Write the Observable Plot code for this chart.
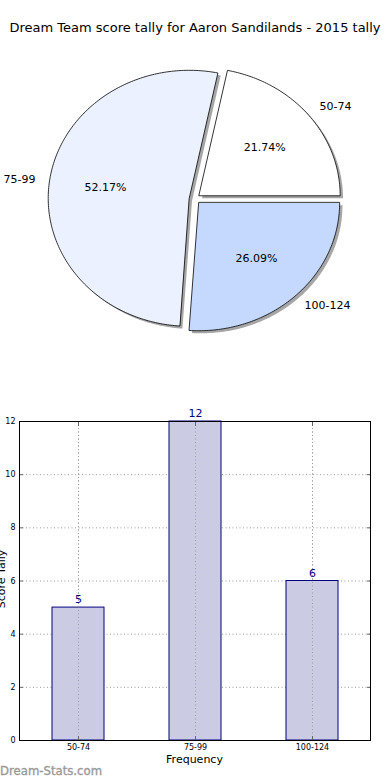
<!DOCTYPE html>
<html>
<head>
<meta charset="utf-8">
<script src="https://cdn.jsdelivr.net/npm/d3@7"></script>
<script src="https://cdn.jsdelivr.net/npm/@observablehq/plot@0.6"></script>
<style>
  html, body { margin: 0; padding: 0; background: #fff; }
  body { width: 390px; height: 780px; position: relative; overflow: hidden; font-family: "DejaVu Sans", sans-serif; }
  #title { position: absolute; top: 20px; left: 0; width: 390px; text-align: center; font-size: 13px; color: #000; white-space: nowrap; }
  #pie { position: absolute; top: 0; left: 0; }
  #bar { position: absolute; top: 400px; left: 0; }
  #xlabel { position: absolute; top: 753px; left: 19px; width: 351px; text-align: center; font-size: 11px; color: #000; }
  #ylabel { position: absolute; left: -33px; top: 572px; width: 70px; text-align: center; font-size: 11px; transform: rotate(-90deg); transform-origin: 35px 7px; white-space: nowrap; }
  #wm { position: absolute; left: 0; top: 764px; font-size: 11.7px; color: #9a9a9a; -webkit-text-stroke: 0.35px #9a9a9a; white-space: nowrap; }
</style>
</head>
<body>
<div id="title">Dream Team score tally for Aaron Sandilands - 2015 tally</div>
<div id="pie"></div>
<div id="bar"></div>
<div id="ylabel">Score Tally</div>
<div id="xlabel">Frequency</div>
<div id="wm">Dream-Stats.com</div>
<script>
// ---- data ----
const categories = ["50-74", "75-99", "100-124"];
const counts = [5, 12, 6];
const yTicks = [0, 2, 4, 6, 8, 10, 12];

// ---- styles ----
const pieColors = ["#ffffff", "#ebf1ff", "#c5d9ff"];
const explode = 0.04;

const total = d3.sum(counts);
// build wedges (counter-clockwise from 0 degrees, like matplotlib)
let start = 0;
const slices = categories.map((c, i) => {
  const frac = counts[i] / total;
  const t1 = start * 2 * Math.PI, t2 = (start + frac) * 2 * Math.PI;
  start += frac;
  const tm = (t1 + t2) / 2;
  return {cat: c, i, frac, t1, t2, tm, ox: explode * Math.cos(tm), oy: explode * Math.sin(tm)};
});
function wedgePoints(s, shift) {
  const pts = [{u: s.ox + shift, v: s.oy - shift}];
  const n = Math.max(2, Math.ceil((s.t2 - s.t1) / (Math.PI / 180)));
  for (let k = 0; k <= n; k++) {
    const t = s.t1 + (s.t2 - s.t1) * k / n;
    pts.push({u: s.ox + Math.cos(t) + shift, v: s.oy + Math.sin(t) - shift});
  }
  return pts;
}
const labels = slices.map(s => ({
  cat: s.cat,
  cos: Math.cos(s.tm),
  lu: s.ox + 1.1 * Math.cos(s.tm), lv: s.oy + 1.1 * Math.sin(s.tm),
  pu: s.ox + 0.6 * Math.cos(s.tm), pv: s.oy + 0.6 * Math.sin(s.tm),
  pct: (s.frac * 100).toFixed(2) + "%"
}));

const pieMarks = [];
slices.forEach(s => {
  pieMarks.push(Plot.line(wedgePoints(s, 0.02), {x: "u", y: "v", curve: "linear-closed", fill: "#4d4d4d", fillOpacity: 0.5, stroke: "none"}));
});
slices.forEach(s => {
  pieMarks.push(Plot.line(wedgePoints(s, 0), {x: "u", y: "v", curve: "linear-closed", fill: pieColors[s.i], stroke: "#000", strokeWidth: 0.8}));
});
pieMarks.push(Plot.text(labels.filter(d => d.cos >= 0), {x: "lu", y: "lv", text: "cat", textAnchor: "start", fontSize: 11, fill: "#000"}));
pieMarks.push(Plot.text(labels.filter(d => d.cos < 0), {x: "lu", y: "lv", text: "cat", textAnchor: "end", fontSize: 11, fill: "#000"}));
pieMarks.push(Plot.text(labels, {x: "pu", y: "pv", text: "pct", fontSize: 11, fill: "#000"}));

const cx = 194.3, cy = 198.5, rx = 141, ry = 128, H = 370;
const pie = Plot.plot({
  width: 390, height: H,
  margin: 0,
  style: {fontFamily: "DejaVu Sans, sans-serif", background: "transparent"},
  x: {domain: [-cx / rx, (390 - cx) / rx], axis: null},
  y: {domain: [(cy - H) / ry, cy / ry], axis: null},
  marks: pieMarks
});
document.getElementById("pie").append(pie);

// ---- bar chart ----
const barData = categories.map((c, i) => ({cat: c, n: counts[i]}));
const grid = {stroke: "#999", strokeOpacity: 1, strokeDasharray: "1,2.5", strokeWidth: 1};
const bar = Plot.plot({
  width: 390, height: 380,
  marginTop: 21, marginBottom: 40, marginLeft: 19, marginRight: 20,
  style: {fontFamily: "DejaVu Sans, sans-serif", background: "transparent", color: "#000"},
  x: {domain: categories, paddingInner: 0.556, paddingOuter: 0.278, label: null},
  y: {domain: [0, 12], label: null},
  marks: [
    Plot.gridY(yTicks, grid),
    Plot.gridX(categories, grid),
    Plot.barY(barData, {x: "cat", y: "n", fill: "#cbcce4", stroke: "#000080", strokeWidth: 1}),
    Plot.gridX(categories, {...grid, strokeOpacity: 0.9}),
    Plot.text(barData, {x: "cat", y: "n", text: d => String(d.n), dy: -8, fontSize: 11, fill: "#000080"}),
    Plot.axisY(yTicks, {anchor: "left", tickSize: 4, dx: 4, tickFormat: () => "", label: null, stroke: "#666"}),
    Plot.axisY(yTicks, {anchor: "right", tickSize: 4, dx: -4, tickFormat: () => "", label: null, stroke: "#666"}),
    Plot.axisX(categories, {anchor: "bottom", tickSize: 4, dy: -4, tickFormat: () => "", label: null, stroke: "#666"}),
    Plot.axisX(categories, {anchor: "top", tickSize: 4, dy: 4, tickFormat: () => "", label: null, stroke: "#666"}),
    Plot.frame({stroke: "#000", strokeWidth: 1}),
    Plot.axisY(yTicks, {tickSize: 0, tickPadding: 4, fontSize: 8, label: null}),
    Plot.axisX({tickSize: 0, tickPadding: 4, fontSize: 8, label: null})
  ]
});
document.getElementById("bar").append(bar);
</script>
</body>
</html>
